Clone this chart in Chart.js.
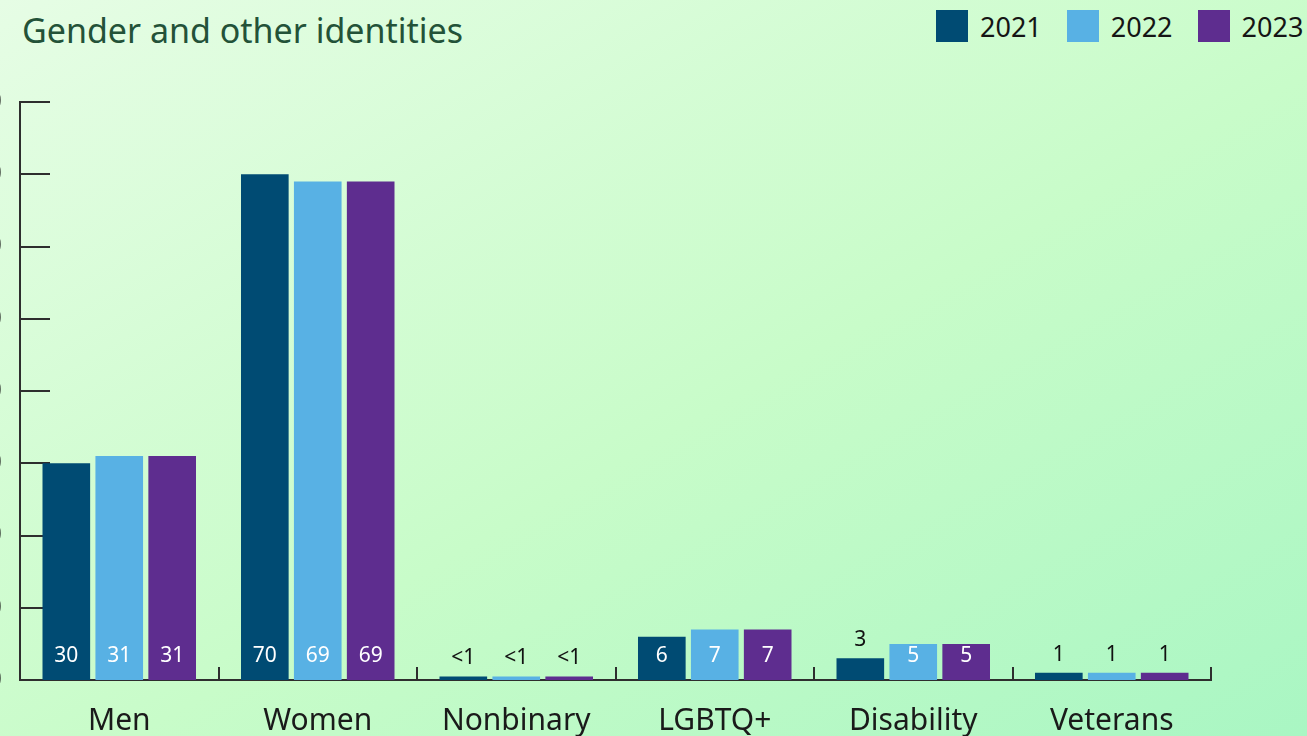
<!DOCTYPE html>
<html>
<head>
<meta charset="utf-8">
<script src="https://cdn.jsdelivr.net/npm/chart.js@4"></script>
<style>
  html, body { margin: 0; padding: 0; }
  body {
    width: 1307px; height: 736px; overflow: hidden; position: relative;
    font-family: "Noto Sans", sans-serif;
    background: linear-gradient(to bottom right, #e6fde5 0%, #c8fcc9 55%, #a9f6c3 100%);
  }
  .title {
    position: absolute; left: 22px; top: 13px;
    font-size: 34px; line-height: 1; color: #235238; white-space: nowrap;
  }
  .legend {
    position: absolute; left: 936px; top: 10px; display: flex; gap: 25px;
    font-size: 27px; color: #151515; white-space: nowrap;
  }
  .legend span.item { display: flex; align-items: center; height: 32px; }
  .swatch { width: 32px; height: 32px; margin-right: 12px; display: inline-block; }
  #wrap { position: absolute; left: -60px; top: 0; width: 1367px; height: 736px; }
</style>
</head>
<body>
<div class="title">Gender and other identities</div>
<div class="legend" id="legend"></div>
<div id="wrap"><canvas id="chart"></canvas></div>
<script>
// ── data ─────────────────────────────────────────
const categories = ['Men', 'Women', 'Nonbinary', 'LGBTQ+', 'Disability', 'Veterans'];
const years = ['2021', '2022', '2023'];
const values2021 = [30, 70, 0.5, 6, 3, 1];
const values2022 = [31, 69, 0.5, 7, 5, 1];
const values2023 = [31, 69, 0.5, 7, 5, 1];
const yMax = 80;
const yStep = 10;

const colors = ['#004b73', '#58b1e4', '#5e2d8f'];
const axisColor = '#2e2e2e';

document.getElementById('legend').innerHTML = years.map((y, i) =>
  `<span class="item"><span class="swatch" style="background:${colors[i]}"></span>${y}</span>`
).join('');

// inward tick marks on both axes
const axisTicks = {
  id: 'axisTicks',
  beforeDatasetsDraw(chart) {
    const { ctx, chartArea: a, scales: { x, y } } = chart;
    ctx.save();
    ctx.strokeStyle = axisColor;
    ctx.lineWidth = 2;
    ctx.beginPath();
    y.ticks.forEach(t => {
      if (t.value === 0) return;
      const py = Math.round(y.getPixelForValue(t.value));
      ctx.moveTo(a.left, py);
      ctx.lineTo(a.left + 30, py);
    });
    const half = (x.getPixelForValue(1) - x.getPixelForValue(0)) / 2;
    categories.forEach((c, i) => {
      const px = Math.round(x.getPixelForValue(i) + half);
      ctx.moveTo(px, a.bottom);
      ctx.lineTo(px, a.bottom - 13);
    });
    ctx.stroke();
    ctx.restore();
  }
};

// value labels: white inside tall bars, black above short ones
const barLabels = {
  id: 'barLabels',
  afterDatasetsDraw(chart) {
    const { ctx } = chart;
    ctx.save();
    ctx.font = '21px "Noto Sans", sans-serif';
    ctx.textAlign = 'center';
    ctx.textBaseline = 'middle';
    chart.data.datasets.forEach((ds, di) => {
      chart.getDatasetMeta(di).data.forEach((bar, i) => {
        const v = ds.data[i];
        const txt = v < 1 ? '<1' : String(v);
        if (v >= 5) {
          ctx.fillStyle = '#ffffff';
          ctx.fillText(txt, bar.x, bar.base - 24);
        } else {
          ctx.fillStyle = '#111111';
          ctx.fillText(txt, bar.x, bar.y - 18);
        }
      });
    });
    ctx.restore();
  }
};

new Chart(document.getElementById('chart'), {
  type: 'bar',
  data: {
    labels: categories,
    datasets: [values2021, values2022, values2023].map((d, i) => ({
      label: years[i],
      data: d,
      backgroundColor: colors[i],
      borderWidth: 0,
      barPercentage: 0.9,
      categoryPercentage: 0.8
    }))
  },
  options: {
    responsive: true,
    maintainAspectRatio: false,
    animation: false,
    layout: { padding: { top: 102, right: 96, bottom: 0, left: 0 } },
    plugins: {
      legend: { display: false },
      tooltip: { enabled: false }
    },
    scales: {
      x: {
        grid: { display: false, drawTicks: false },
        border: { display: true, color: axisColor, width: 2 },
        ticks: { color: '#1a1a1a', padding: 23, font: { size: 30, family: '"Noto Sans", sans-serif' } },
        afterFit: s => { s.height = 56; }
      },
      y: {
        min: 0, max: yMax,
        grid: { display: false, drawTicks: false },
        border: { display: true, color: axisColor, width: 2 },
        ticks: { stepSize: yStep, color: '#1a1a1a', padding: 18, font: { size: 28, family: '"Noto Sans", sans-serif' } },
        afterFit: s => { s.width = 80; }
      }
    }
  },
  plugins: [axisTicks, barLabels]
});
</script>
</body>
</html>
